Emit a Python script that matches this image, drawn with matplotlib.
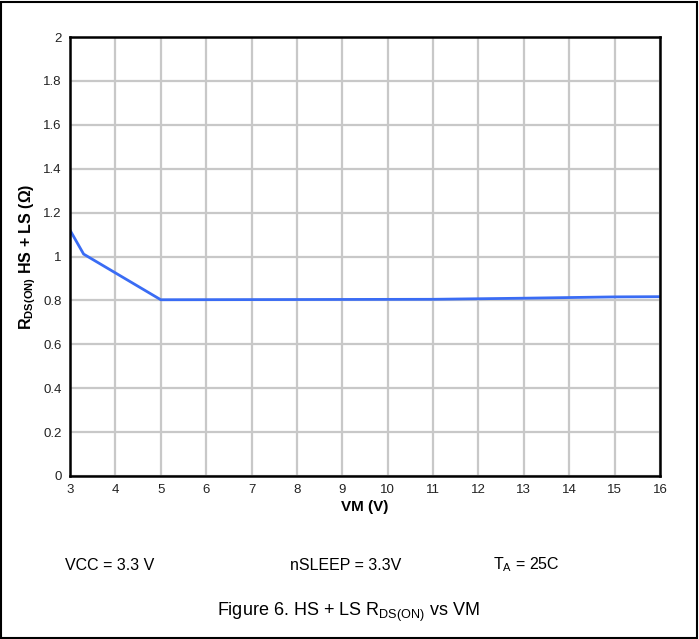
import matplotlib
matplotlib.use("Agg")
import matplotlib.pyplot as plt
from matplotlib.patches import Rectangle

plt.rcParams['font.family'] = ['Liberation Sans', 'DejaVu Sans']
plt.rcParams['mathtext.fontset'] = 'custom'
plt.rcParams['mathtext.rm'] = 'Liberation Sans'
plt.rcParams['mathtext.bf'] = 'Liberation Sans:bold'
plt.rcParams['mathtext.it'] = 'Liberation Sans:italic'

vm = [3.0, 3.3, 5.0, 11.0, 13.0, 15.0, 16.0]
rds = [1.12, 1.011, 0.803, 0.805, 0.81, 0.816, 0.817]
x_ticks = list(range(3, 17))
y_ticks = [0, 0.2, 0.4, 0.6, 0.8, 1.0, 1.2, 1.4, 1.6, 1.8, 2.0]
y_labels = ['0', '0.2', '0.4', '0.6', '0.8', '1', '1.2', '1.4', '1.6', '1.8', '2']

W, H = 699, 639
fig = plt.figure(figsize=(W / 100, H / 100), dpi=100)
ax = fig.add_axes([70 / W, 1 - 476 / H, 590 / W, 439 / H])

ax.plot(vm, rds, color='#3a6cf4', lw=2.0, zorder=3, solid_joinstyle='miter')
ax.set_xlim(3, 16)
ax.set_ylim(0, 2)
ax.set_xticks(x_ticks)
ax.set_xticklabels([str(t) for t in x_ticks])
ax.set_yticks(y_ticks)
ax.set_yticklabels(y_labels)
ax.tick_params(length=0, pad=6, labelsize=9.5, colors='#222222')
ax.grid(True, color='#c8c8c8', lw=1.6)
ax.set_axisbelow(True)
for s in ax.spines.values():
    s.set_linewidth(1.8)
    s.set_color('black')
    s.set_zorder(4)

ax.set_xlabel('VM (V)', fontsize=11, fontweight='bold', labelpad=3)
ax.set_ylabel(r'$\mathbf{R_{DS(ON)}}$ HS + LS (Ω)', fontsize=11.5, fontweight='bold', labelpad=4)

fig.patches.append(Rectangle((1 / W, 1 / H), 696 / W, 636 / H, transform=fig.transFigure,
                             fill=False, edgecolor='black', lw=1.5))

fig.text(65 / W, 1 - 565 / H, 'VCC = 3.3 V', fontsize=11.5, va='center', ha='left')
fig.text(290 / W, 1 - 565 / H, 'nSLEEP = 3.3V', fontsize=11.5, va='center', ha='left')
fig.text(493 / W, 1 - 565 / H, r'T$_\mathrm{A}$ = 25C', fontsize=11.5, va='center', ha='left')
fig.text(348 / W, 1 - 612 / H, r'Figure 6. HS + LS R$_\mathrm{DS(ON)}$ vs VM', fontsize=13,
         va='center', ha='center')

fig.savefig('out.png', dpi=100)
